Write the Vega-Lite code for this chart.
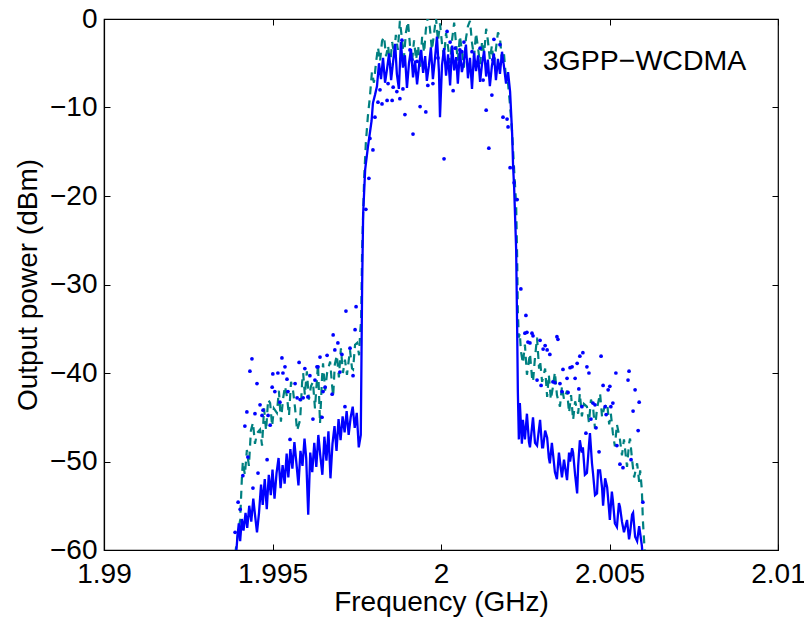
{
  "$schema": "https://vega.github.io/schema/vega-lite/v6.json",
  "width": 674,
  "height": 531,
  "autosize": {"type": "none"},
  "padding": {"left": 104, "top": 19, "right": 26, "bottom": 70},
  "background": "white",
  "config": {
    "view": {"stroke": "#000", "strokeWidth": 1.2},
    "axis": {
      "grid": false, "domainColor": "#000", "tickColor": "#000", "labelColor": "#000", "titleColor": "#000",
      "labelFont": "Liberation Sans", "titleFont": "Liberation Sans", "labelFontSize": 28, "titleFontSize": 28,
      "titleFontWeight": "normal", "tickSize": -6, "labelFlush": false, "labelOverlap": false, "domainWidth": 1.2, "tickWidth": 1
    }
  },
  "datasets": {
    "solid": [
      {"f":1.99392,"p":-60.5},{"f":1.99396,"p":-58.5},{"f":1.99400,"p":-57.0},{"f":1.99404,"p":-59.0},{"f":1.99409,"p":-56.5},{"f":1.99414,"p":-57.8},{"f":1.99420,"p":-55.8},{"f":1.99425,"p":-57.5},{"f":1.99431,"p":-55.0},{"f":1.99437,"p":-56.8},{"f":1.99443,"p":-54.2},{"f":1.99448,"p":-56.0},{"f":1.99454,"p":-58.0},{"f":1.99460,"p":-55.8},{"f":1.99466,"p":-52.6},{"f":1.99471,"p":-54.9},{"f":1.99477,"p":-52.0},{"f":1.99483,"p":-55.4},{"f":1.99489,"p":-51.5},{"f":1.99495,"p":-53.8},{"f":1.99500,"p":-50.9},{"f":1.99506,"p":-54.2},{"f":1.99512,"p":-51.3},{"f":1.99518,"p":-49.6},{"f":1.99524,"p":-53.0},{"f":1.99530,"p":-50.4},{"f":1.99536,"p":-52.5},{"f":1.99542,"p":-49.1},{"f":1.99547,"p":-51.8},{"f":1.99553,"p":-48.6},{"f":1.99559,"p":-50.8},{"f":1.99565,"p":-47.8},{"f":1.99571,"p":-50.2},{"f":1.99577,"p":-52.7},{"f":1.99583,"p":-48.8},{"f":1.99589,"p":-50.5},{"f":1.99595,"p":-47.4},{"f":1.99600,"p":-49.6},{"f":1.99606,"p":-56.0},{"f":1.99612,"p":-49.0},{"f":1.99618,"p":-51.2},{"f":1.99624,"p":-47.9},{"f":1.99630,"p":-50.6},{"f":1.99636,"p":-47.0},{"f":1.99642,"p":-49.4},{"f":1.99648,"p":-51.5},{"f":1.99654,"p":-47.2},{"f":1.99660,"p":-49.9},{"f":1.99666,"p":-46.6},{"f":1.99672,"p":-51.9},{"f":1.99678,"p":-48.0},{"f":1.99684,"p":-46.0},{"f":1.99690,"p":-48.8},{"f":1.99696,"p":-45.2},{"f":1.99702,"p":-47.6},{"f":1.99708,"p":-44.9},{"f":1.99714,"p":-46.7},{"f":1.99720,"p":-44.3},{"f":1.99726,"p":-47.0},{"f":1.99732,"p":-45.0},{"f":1.99738,"p":-43.8},{"f":1.99744,"p":-46.2},{"f":1.99750,"p":-44.5},{"f":1.99756,"p":-48.4},{"f":1.99762,"p":-47.0},
      {"f":1.99766,"p":-30.0},{"f":1.99769,"p":-22.0},{"f":1.99775,"p":-17.0},{"f":1.99783,"p":-14.5},{"f":1.99794,"p":-11.5},{"f":1.99798,"p":-9.5},{"f":1.99804,"p":-8.6},
      {"f":1.99810,"p":-7.6},{"f":1.99816,"p":-5.0},{"f":1.99822,"p":-6.8},{"f":1.99828,"p":-4.4},{"f":1.99834,"p":-7.2},{"f":1.99840,"p":-5.6},{"f":1.99846,"p":-3.9},{"f":1.99852,"p":-6.9},{"f":1.99858,"p":-4.8},{"f":1.99864,"p":-2.8},{"f":1.99869,"p":-6.2},{"f":1.99875,"p":-7.9},{"f":1.99881,"p":-2.6},{"f":1.99887,"p":-5.5},{"f":1.99893,"p":-4.1},{"f":1.99899,"p":-7.8},{"f":1.99905,"p":-5.0},{"f":1.99911,"p":-3.4},{"f":1.99917,"p":-6.6},{"f":1.99923,"p":-4.7},{"f":1.99929,"p":-7.4},{"f":1.99935,"p":-5.2},{"f":1.99941,"p":-3.5},{"f":1.99947,"p":-6.1},{"f":1.99953,"p":-4.2},{"f":1.99958,"p":-7.0},{"f":1.99964,"p":-5.3},{"f":1.99970,"p":-3.2},{"f":1.99976,"p":-6.8},{"f":1.99982,"p":-4.5},{"f":1.99988,"p":-2.0},{"f":1.99994,"p":-6.0},{"f":1.99997,"p":-11.1},{"f":2.00003,"p":-5.2},{"f":2.00009,"p":-3.3},{"f":2.00015,"p":-6.4},{"f":2.00021,"p":-4.0},{"f":2.00027,"p":-7.5},{"f":2.00033,"p":-3.0},{"f":2.00039,"p":-5.8},{"f":2.00045,"p":-4.3},{"f":2.00050,"p":-7.3},{"f":2.00056,"p":-3.6},{"f":2.00062,"p":-6.0},{"f":2.00068,"p":-4.8},{"f":2.00074,"p":-2.9},{"f":2.00080,"p":-6.7},{"f":2.00086,"p":-4.4},{"f":2.00092,"p":-7.9},{"f":2.00098,"p":-3.8},{"f":2.00104,"p":-5.9},{"f":2.00110,"p":-4.1},{"f":2.00116,"p":-7.1},{"f":2.00122,"p":-5.0},{"f":2.00128,"p":-3.6},{"f":2.00134,"p":-6.5},{"f":2.00139,"p":-4.6},{"f":2.00145,"p":-7.6},{"f":2.00151,"p":-5.3},{"f":2.00157,"p":-3.9},{"f":2.00163,"p":-6.9},{"f":2.00169,"p":-4.5},{"f":2.00175,"p":-6.2},{"f":2.00181,"p":-3.7},{"f":2.00187,"p":-5.4},{"f":2.00193,"p":-7.3},{"f":2.00199,"p":-6.0},{"f":2.00205,"p":-8.2},{"f":2.00211,"p":-12.9},{"f":2.00214,"p":-16.7},{"f":2.00217,"p":-19.0},{"f":2.00223,"p":-26.0},{"f":2.00226,"p":-35.0},{"f":2.00228,"p":-42.0},{"f":2.00231,"p":-47.5},{"f":2.00234,"p":-43.4},
      {"f":2.00240,"p":-48.0},{"f":2.00243,"p":-45.3},{"f":2.00249,"p":-47.5},{"f":2.00255,"p":-44.6},{"f":2.00261,"p":-47.8},{"f":2.00264,"p":-48.4},{"f":2.00273,"p":-45.0},{"f":2.00279,"p":-47.9},{"f":2.00285,"p":-48.2},{"f":2.00294,"p":-45.3},{"f":2.00300,"p":-48.4},{"f":2.00303,"p":-48.4},{"f":2.00309,"p":-46.5},{"f":2.00315,"p":-47.3},{"f":2.00320,"p":-49.6},{"f":2.00323,"p":-50.2},{"f":2.00329,"p":-47.9},{"f":2.00332,"p":-49.0},{"f":2.00338,"p":-51.2},{"f":2.00344,"p":-52.0},{"f":2.00350,"p":-49.0},{"f":2.00353,"p":-50.0},{"f":2.00359,"p":-51.8},{"f":2.00365,"p":-49.8},{"f":2.00374,"p":-52.1},{"f":2.00380,"p":-49.0},{"f":2.00383,"p":-50.0},{"f":2.00389,"p":-48.5},{"f":2.00392,"p":-49.0},{"f":2.00398,"p":-51.5},{"f":2.00404,"p":-53.6},{"f":2.00407,"p":-50.5},{"f":2.00412,"p":-47.6},{"f":2.00418,"p":-49.0},{"f":2.00421,"p":-48.4},{"f":2.00427,"p":-51.5},{"f":2.00433,"p":-51.3},{"f":2.00439,"p":-48.2},{"f":2.00442,"p":-46.8},{"f":2.00448,"p":-50.2},{"f":2.00451,"p":-51.3},{"f":2.00457,"p":-53.8},{"f":2.00463,"p":-53.6},{"f":2.00466,"p":-51.0},{"f":2.00472,"p":-51.0},{"f":2.00478,"p":-53.0},{"f":2.00481,"p":-55.0},{"f":2.00487,"p":-51.9},{"f":2.00493,"p":-52.9},{"f":2.00499,"p":-55.6},{"f":2.00501,"p":-56.6},{"f":2.00507,"p":-53.4},{"f":2.00510,"p":-54.4},{"f":2.00516,"p":-57.0},{"f":2.00522,"p":-57.4},{"f":2.00528,"p":-54.7},{"f":2.00531,"p":-55.1},{"f":2.00537,"p":-56.8},{"f":2.00543,"p":-58.0},{"f":2.00552,"p":-56.6},{"f":2.00558,"p":-58.8},{"f":2.00561,"p":-58.1},{"f":2.00567,"p":-56.0},{"f":2.00570,"p":-55.8},{"f":2.00576,"p":-58.5},{"f":2.00582,"p":-59.0},{"f":2.00588,"p":-57.3},{"f":2.00591,"p":-58.1},{"f":2.00596,"p":-59.5},{"f":2.00599,"p":-61.0}
    ],
    "dashed": [
      {"f":1.99389,"p":-60.5},{"f":1.99398,"p":-58.0},{"f":1.99404,"p":-56.6},{"f":1.99409,"p":-52.0},{"f":1.99412,"p":-50.0},{"f":1.99418,"p":-51.5},{"f":1.99424,"p":-48.7},{"f":1.99430,"p":-50.5},{"f":1.99436,"p":-46.5},{"f":1.99442,"p":-45.6},{"f":1.99448,"p":-48.0},{"f":1.99454,"p":-46.8},{"f":1.99463,"p":-46.4},{"f":1.99469,"p":-48.2},{"f":1.99475,"p":-44.0},{"f":1.99481,"p":-46.5},{"f":1.99487,"p":-43.0},{"f":1.99493,"p":-43.4},{"f":1.99499,"p":-46.0},{"f":1.99504,"p":-44.0},{"f":1.99513,"p":-44.5},{"f":1.99519,"p":-42.0},{"f":1.99525,"p":-45.5},{"f":1.99531,"p":-43.0},{"f":1.99537,"p":-41.5},{"f":1.99543,"p":-42.7},{"f":1.99549,"p":-44.8},{"f":1.99555,"p":-41.0},{"f":1.99561,"p":-42.0},{"f":1.99567,"p":-44.0},{"f":1.99573,"p":-46.5},{"f":1.99582,"p":-45.3},{"f":1.99588,"p":-41.0},{"f":1.99591,"p":-40.0},{"f":1.99596,"p":-42.5},{"f":1.99602,"p":-39.8},{"f":1.99608,"p":-43.0},{"f":1.99614,"p":-41.5},{"f":1.99620,"p":-41.0},{"f":1.99626,"p":-44.0},{"f":1.99635,"p":-39.0},{"f":1.99641,"p":-45.7},{"f":1.99647,"p":-40.5},{"f":1.99650,"p":-38.9},{"f":1.99656,"p":-42.0},{"f":1.99662,"p":-40.0},{"f":1.99671,"p":-38.7},{"f":1.99677,"p":-41.5},{"f":1.99680,"p":-42.6},{"f":1.99685,"p":-39.0},{"f":1.99691,"p":-38.0},{"f":1.99697,"p":-40.5},{"f":1.99703,"p":-37.2},{"f":1.99709,"p":-40.0},{"f":1.99715,"p":-38.5},{"f":1.99721,"p":-40.2},{"f":1.99730,"p":-37.4},{"f":1.99736,"p":-39.5},{"f":1.99739,"p":-39.6},{"f":1.99745,"p":-36.8},{"f":1.99751,"p":-36.6},{"f":1.99757,"p":-38.0},{"f":1.99760,"p":-35.5},{"f":1.99763,"p":-34.0},
      {"f":1.99766,"p":-26.0},{"f":1.99772,"p":-18.0},{"f":1.99777,"p":-14.0},{"f":1.99783,"p":-11.0},{"f":1.99789,"p":-8.8},{"f":1.99795,"p":-6.0},{"f":1.99801,"p":-7.2},{"f":1.99807,"p":-5.0},
      {"f":1.99813,"p":-3.2},{"f":1.99819,"p":-4.8},{"f":1.99825,"p":-2.5},{"f":1.99831,"p":-2.0},{"f":1.99837,"p":-4.2},{"f":1.99843,"p":-3.0},{"f":1.99849,"p":-5.3},{"f":1.99855,"p":-2.6},{"f":1.99861,"p":-4.0},{"f":1.99866,"p":-1.8},{"f":1.99872,"p":-3.5},{"f":1.99878,"p":-0.2},{"f":1.99884,"p":-2.2},{"f":1.99890,"p":-4.4},{"f":1.99896,"p":-1.5},{"f":1.99902,"p":-0.3},{"f":1.99908,"p":-3.0},{"f":1.99914,"p":-5.0},{"f":1.99920,"p":-2.4},{"f":1.99926,"p":-4.6},{"f":1.99932,"p":-3.0},{"f":1.99938,"p":-5.4},{"f":1.99944,"p":-2.0},{"f":1.99950,"p":-3.8},{"f":1.99955,"p":-1.2},{"f":1.99961,"p":0.3},{"f":1.99967,"p":-1.0},{"f":1.99973,"p":-3.5},{"f":1.99979,"p":-1.8},{"f":1.99985,"p":0.2},{"f":1.99991,"p":-2.5},{"f":1.99997,"p":-0.5},{"f":2.00003,"p":-2.8},{"f":2.00009,"p":-4.3},{"f":2.00015,"p":-1.6},{"f":2.00021,"p":-3.2},{"f":2.00027,"p":-5.0},{"f":2.00033,"p":-2.3},{"f":2.00039,"p":-0.4},{"f":2.00045,"p":-2.9},{"f":2.00050,"p":-4.7},{"f":2.00056,"p":-1.9},{"f":2.00062,"p":-3.6},{"f":2.00068,"p":-5.5},{"f":2.00074,"p":-2.2},{"f":2.00080,"p":-0.8},{"f":2.00086,"p":-0.2},{"f":2.00092,"p":-2.7},{"f":2.00098,"p":-4.3},{"f":2.00104,"p":-1.6},{"f":2.00110,"p":-3.3},{"f":2.00116,"p":-5.1},{"f":2.00122,"p":-2.5},{"f":2.00128,"p":-3.9},{"f":2.00134,"p":-1.1},{"f":2.00139,"p":-2.4},{"f":2.00145,"p":-4.6},{"f":2.00151,"p":-3.0},{"f":2.00157,"p":-5.2},{"f":2.00163,"p":-3.4},{"f":2.00169,"p":-1.5},{"f":2.00175,"p":-2.1},{"f":2.00181,"p":-4.8},{"f":2.00187,"p":-4.0},{"f":2.00193,"p":-6.8},{"f":2.00199,"p":-7.3},{"f":2.00205,"p":-9.8},{"f":2.00211,"p":-12.8},{"f":2.00217,"p":-17.0},{"f":2.00223,"p":-21.0},{"f":2.00226,"p":-27.0},{"f":2.00228,"p":-33.0},{"f":2.00231,"p":-36.0},
      {"f":2.00234,"p":-35.5},{"f":2.00237,"p":-37.5},{"f":2.00243,"p":-38.9},{"f":2.00249,"p":-36.8},{"f":2.00255,"p":-40.2},{"f":2.00264,"p":-37.8},{"f":2.00270,"p":-40.5},{"f":2.00273,"p":-41.0},{"f":2.00279,"p":-38.2},{"f":2.00285,"p":-36.0},{"f":2.00291,"p":-39.5},{"f":2.00294,"p":-38.6},{"f":2.00300,"p":-41.0},{"f":2.00309,"p":-39.5},{"f":2.00315,"p":-42.7},{"f":2.00320,"p":-40.2},{"f":2.00326,"p":-43.0},{"f":2.00332,"p":-41.6},{"f":2.00338,"p":-39.9},{"f":2.00344,"p":-42.5},{"f":2.00353,"p":-43.8},{"f":2.00359,"p":-41.5},{"f":2.00365,"p":-43.0},{"f":2.00374,"p":-42.0},{"f":2.00380,"p":-44.5},{"f":2.00386,"p":-42.5},{"f":2.00392,"p":-45.3},{"f":2.00398,"p":-43.2},{"f":2.00407,"p":-44.6},{"f":2.00412,"p":-42.3},{"f":2.00418,"p":-44.9},{"f":2.00424,"p":-43.5},{"f":2.00433,"p":-43.8},{"f":2.00439,"p":-45.6},{"f":2.00445,"p":-43.0},{"f":2.00451,"p":-43.8},{"f":2.00457,"p":-46.3},{"f":2.00463,"p":-44.0},{"f":2.00472,"p":-42.3},{"f":2.00478,"p":-45.0},{"f":2.00484,"p":-44.0},{"f":2.00493,"p":-43.4},{"f":2.00499,"p":-45.8},{"f":2.00504,"p":-44.6},{"f":2.00510,"p":-46.8},{"f":2.00516,"p":-48.3},{"f":2.00522,"p":-45.8},{"f":2.00531,"p":-47.5},{"f":2.00537,"p":-49.3},{"f":2.00543,"p":-47.5},{"f":2.00552,"p":-50.6},{"f":2.00558,"p":-48.0},{"f":2.00561,"p":-47.4},{"f":2.00567,"p":-49.8},{"f":2.00573,"p":-51.8},{"f":2.00582,"p":-50.2},{"f":2.00588,"p":-52.3},{"f":2.00591,"p":-51.0},{"f":2.00596,"p":-53.2},{"f":2.00599,"p":-56.6},{"f":2.00605,"p":-60.5}
    ],
    "dots": [
      {"f":1.99389,"p":-58.0},{"f":1.99398,"p":-54.6},{"f":1.99404,"p":-55.4},{"f":1.99412,"p":-51.6},{"f":1.99418,"p":-46.0},{"f":1.99424,"p":-44.4},{"f":1.99427,"p":-49.5},{"f":1.99433,"p":-39.8},{"f":1.99439,"p":-38.4},{"f":1.99442,"p":-53.0},{"f":1.99448,"p":-44.6},{"f":1.99454,"p":-41.2},{"f":1.99457,"p":-51.3},{"f":1.99463,"p":-43.6},{"f":1.99469,"p":-44.8},{"f":1.99472,"p":-44.2},{"f":1.99484,"p":-49.8},{"f":1.99487,"p":-44.8},{"f":1.99493,"p":-45.9},{"f":1.99499,"p":-41.6},{"f":1.99501,"p":-40.1},{"f":1.99507,"p":-42.1},{"f":1.99516,"p":-40.0},{"f":1.99522,"p":-43.3},{"f":1.99528,"p":-38.3},{"f":1.99531,"p":-40.0},{"f":1.99537,"p":-39.3},{"f":1.99543,"p":-40.7},{"f":1.99546,"p":-42.1},{"f":1.99552,"p":-47.5},{"f":1.99567,"p":-41.2},{"f":1.99573,"p":-42.8},{"f":1.99579,"p":-38.8},{"f":1.99582,"p":-43.0},{"f":1.99591,"p":-42.8},{"f":1.99596,"p":-39.5},{"f":1.99605,"p":-42.7},{"f":1.99611,"p":-40.3},{"f":1.99620,"p":-45.2},{"f":1.99626,"p":-40.8},{"f":1.99632,"p":-39.3},{"f":1.99635,"p":-39.3},{"f":1.99641,"p":-38.2},{"f":1.99647,"p":-45.0},{"f":1.99650,"p":-42.1},{"f":1.99656,"p":-41.6},{"f":1.99662,"p":-38.0},{"f":1.99677,"p":-42.4},{"f":1.99680,"p":-35.7},{"f":1.99685,"p":-37.4},{"f":1.99694,"p":-36.6},{"f":1.99700,"p":-39.9},{"f":1.99706,"p":-37.9},{"f":1.99715,"p":-43.8},{"f":1.99718,"p":-33.0},{"f":1.99730,"p":-37.2},{"f":1.99739,"p":-40.3},{"f":1.99745,"p":-35.1},{"f":1.99748,"p":-32.5},
      {"f":1.99777,"p":-21.5},{"f":1.99786,"p":-18.0},{"f":1.99789,"p":-13.5},{"f":1.99798,"p":-14.8},{"f":1.99804,"p":-11.1},{"f":1.99813,"p":-9.4},{"f":1.99819,"p":-8.0},{"f":1.99825,"p":-9.6},{"f":1.99840,"p":-9.2},{"f":1.99843,"p":-7.3},{"f":1.99855,"p":-9.2},{"f":1.99858,"p":-7.7},{"f":1.99869,"p":-8.2},{"f":1.99878,"p":-9.0},{"f":1.99884,"p":-2.4},{"f":1.99887,"p":-7.9},{"f":1.99893,"p":-10.8},{"f":1.99908,"p":-3.5},{"f":1.99914,"p":-4.6},{"f":1.99917,"p":-13.0},{"f":1.99929,"p":-4.8},{"f":1.99938,"p":-9.9},{"f":1.99955,"p":-10.5},{"f":1.99961,"p":-7.5},{"f":1.99976,"p":-7.3},{"f":1.99991,"p":-4.4},{"f":2.00009,"p":-15.8},{"f":2.00018,"p":-1.4},{"f":2.00027,"p":-2.6},{"f":2.00036,"p":-8.1},{"f":2.00042,"p":-3.3},{"f":2.00056,"p":-3.5},{"f":2.00062,"p":-3.7},{"f":2.00068,"p":-2.6},{"f":2.00092,"p":-3.7},{"f":2.00116,"p":-3.3},{"f":2.00125,"p":-6.9},{"f":2.00134,"p":-10.3},{"f":2.00142,"p":-14.6},{"f":2.00151,"p":-8.6},{"f":2.00154,"p":-4.6},{"f":2.00157,"p":-2.3},{"f":2.00175,"p":-2.9},{"f":2.00184,"p":-11.1},{"f":2.00196,"p":-11.3},{"f":2.00199,"p":-12.2},{"f":2.00205,"p":-16.8},{"f":2.00214,"p":-16.8},{"f":2.00217,"p":-18.5},{"f":2.00226,"p":-20.4},
      {"f":2.00237,"p":-30.5},{"f":2.00249,"p":-35.5},{"f":2.00252,"p":-33.5},{"f":2.00255,"p":-35.4},{"f":2.00258,"p":-36.5},{"f":2.00264,"p":-36.6},{"f":2.00270,"p":-35.5},{"f":2.00273,"p":-35.8},{"f":2.00285,"p":-40.8},{"f":2.00294,"p":-36.3},{"f":2.00297,"p":-41.4},{"f":2.00303,"p":-37.3},{"f":2.00309,"p":-36.9},{"f":2.00315,"p":-37.4},{"f":2.00323,"p":-37.9},{"f":2.00332,"p":-41.0},{"f":2.00338,"p":-41.1},{"f":2.00344,"p":-35.9},{"f":2.00347,"p":-36.2},{"f":2.00353,"p":-41.2},{"f":2.00359,"p":-42.1},{"f":2.00362,"p":-39.6},{"f":2.00374,"p":-40.6},{"f":2.00377,"p":-42.2},{"f":2.00383,"p":-39.4},{"f":2.00389,"p":-39.3},{"f":2.00398,"p":-40.6},{"f":2.00404,"p":-38.9},{"f":2.00409,"p":-41.8},{"f":2.00412,"p":-38.1},{"f":2.00418,"p":-43.8},{"f":2.00421,"p":-37.7},{"f":2.00430,"p":-46.8},{"f":2.00433,"p":-39.3},{"f":2.00439,"p":-40.0},{"f":2.00445,"p":-45.2},{"f":2.00451,"p":-43.4},{"f":2.00457,"p":-43.6},{"f":2.00460,"p":-46.2},{"f":2.00469,"p":-48.9},{"f":2.00475,"p":-38.1},{"f":2.00481,"p":-41.4},{"f":2.00487,"p":-43.8},{"f":2.00490,"p":-44.7},{"f":2.00496,"p":-41.9},{"f":2.00501,"p":-41.5},{"f":2.00504,"p":-43.8},{"f":2.00510,"p":-43.4},{"f":2.00519,"p":-40.0},{"f":2.00522,"p":-48.2},{"f":2.00531,"p":-50.3},{"f":2.00540,"p":-50.7},{"f":2.00555,"p":-40.8},{"f":2.00558,"p":-39.8},{"f":2.00564,"p":-49.8},{"f":2.00570,"p":-44.3},{"f":2.00576,"p":-41.9},{"f":2.00585,"p":-46.5},{"f":2.00588,"p":-43.3},{"f":2.00599,"p":-54.6}
    ],
    "note": [{"f":2.00302,"p":-5.8,"label":"3GPP−WCDMA"}]
  },
  "layer": [
    {
      "data": {"name": "dashed"},
      "mark": {"type": "line", "color": "#008080", "strokeWidth": 2.2, "strokeDash": [8, 6], "clip": true},
      "encoding": {
        "x": {"field": "f", "type": "quantitative", "scale": {"domain": [1.99, 2.01], "nice": false, "zero": false}, "axis": null},
        "y": {"field": "p", "type": "quantitative", "scale": {"domain": [-60, 0], "nice": false, "zero": false}, "axis": null}
      }
    },
    {
      "data": {"name": "solid"},
      "mark": {"type": "line", "color": "#0000ff", "strokeWidth": 2.3, "clip": true},
      "encoding": {
        "x": {"field": "f", "type": "quantitative", "scale": {"domain": [1.99, 2.01], "nice": false, "zero": false},
              "axis": {"orient": "bottom", "values": [1.99, 1.995, 2, 2.005, 2.01], "format": "~g", "title": "Frequency (GHz)", "labelPadding": 16, "titlePadding": 0}},
        "y": {"field": "p", "type": "quantitative", "scale": {"domain": [-60, 0], "nice": false, "zero": false},
              "axis": {"orient": "left", "values": [-60, -50, -40, -30, -20, -10, 0], "title": "Output power (dBm)", "labelPadding": 13, "titlePadding": 7}}
      }
    },
    {
      "data": {"name": "dots"},
      "mark": {"type": "circle", "color": "#0000ff", "size": 14, "opacity": 1, "clip": true},
      "encoding": {
        "x": {"field": "f", "type": "quantitative", "scale": {"domain": [1.99, 2.01], "nice": false, "zero": false}, "axis": null},
        "y": {"field": "p", "type": "quantitative", "scale": {"domain": [-60, 0], "nice": false, "zero": false}, "axis": null}
      }
    },
    {
      "data": {"name": "note"},
      "mark": {"type": "text", "align": "left", "baseline": "alphabetic", "font": "Liberation Sans", "fontSize": 28.5, "color": "#000"},
      "encoding": {
        "x": {"field": "f", "type": "quantitative", "scale": {"domain": [1.99, 2.01], "nice": false, "zero": false},
              "axis": {"orient": "top", "values": [1.99, 1.995, 2, 2.005, 2.01], "labels": false, "title": null, "domain": false}},
        "y": {"field": "p", "type": "quantitative", "scale": {"domain": [-60, 0], "nice": false, "zero": false},
              "axis": {"orient": "right", "values": [-60, -50, -40, -30, -20, -10, 0], "labels": false, "title": null, "domain": false}},
        "text": {"field": "label"}
      }
    }
  ],
  "resolve": {"axis": {"x": "independent", "y": "independent"}}
}
